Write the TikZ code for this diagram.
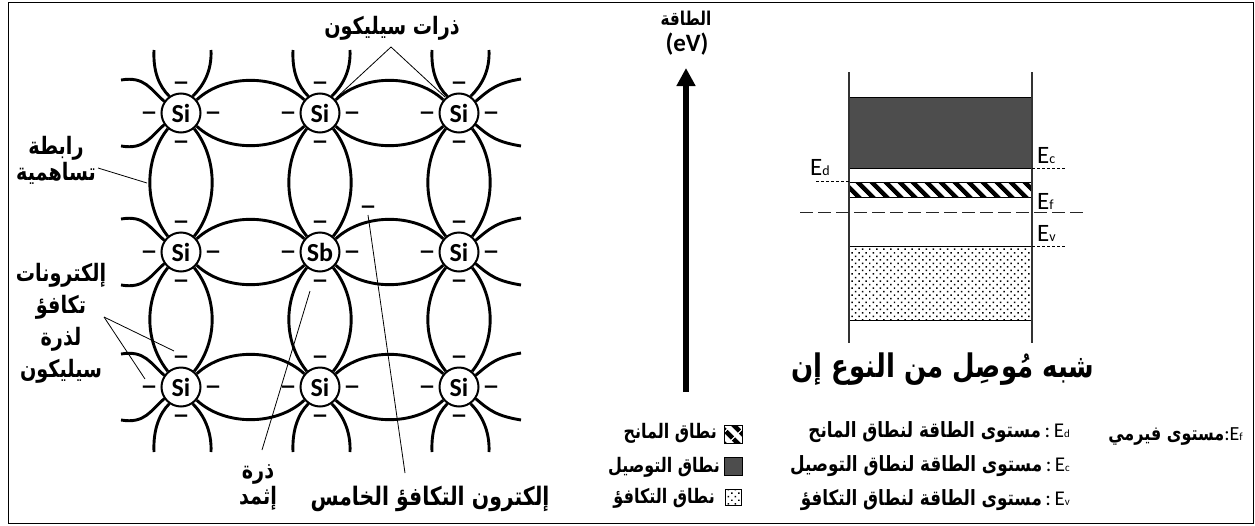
\documentclass[tikz,border=0pt]{standalone}
\usepackage{fontspec}
\usetikzlibrary{patterns.meta,arrows.meta}
\setmainfont{Carlito}
\newfontfamily\arb[Script=Arabic,FakeStretch=.8]{DejaVu Sans}
\newfontfamily\dashfont[FakeStretch=1.35]{Carlito}
\TeXXeTstate=1
\newcommand{\ar}[1]{{\arb\bfseries\beginR #1\endR}}
\newcommand{\en}[2][11]{E{\fontsize{#1}{#1}\selectfont #2}}
\definecolor{cond}{HTML}{4D4D4D}
\tikzset{
 x=1pt,y=-1pt,
 atom/.style={circle,draw=black,line width=2pt,fill=white,minimum size=39pt,inner sep=0pt,font=\fontsize{26}{26}\selectfont\bfseries},
 bond/.style={line width=2.9pt,draw=black},
 lead/.style={line width=.8pt,draw=black},
 elec/.style={inner sep=0pt,anchor=base,font=\fontsize{26}{26}\selectfont\dashfont\bfseries},
 arlab/.style={inner sep=0pt,align=center,font=\fontsize{24}{26}\selectfont},
 legtext/.style={inner sep=0pt,font=\fontsize{20}{22}\selectfont},
 keytext/.style={inner sep=0pt,font=\fontsize{21}{22}\selectfont},
 level/.style={line width=.8pt,draw=black,dash pattern=on 3pt off 2pt},
 enlab/.style={inner sep=0pt,font=\fontsize{25}{25}\selectfont},
 stripes/.style={pattern={Lines[angle=135,distance=10.5pt,line width=5pt]},pattern color=black},
 speckle/.style={pattern={Dots[angle=45,distance=5pt,radius=1.05pt]},pattern color=black},
}
\begin{document}
\begin{tikzpicture}
\useasboundingbox (0,0) rectangle (1255,525);
\node[draw=black,line width=1pt,minimum width=1245pt,minimum height=521pt,inner sep=0pt] (frame) at (630.5,262.5) {};
% ---- atoms and their electrons
\foreach \n/\x/\y/\t in {a/181/113/Si,b/320/113/Si,c/459/113/Si,d/181/252/Si,e/320/252/Sb,f/459/252/Si,g/181/387/Si,h/320/387/Si,i/459/387/Si}{
  \node[atom] (\n) at (\x,\y) {\t};
  \node[elec] (\n-et) at (\x,\y-23) {–};
  \node[elec] (\n-eb) at (\x,\y+36) {–};
  \node[elec] (\n-el) at (\x-32,\y+7) {–};
  \node[elec] (\n-er) at (\x+32,\y+7) {–};
}
\node[elec] (extra) at (368,214) {–};
\foreach \p/\q in {a/b,b/c,d/e,e/f,g/h,h/i}{
  \draw[bond] (\p.40) .. controls +(28,-26) and +(-28,-26) .. (\q.140);
  \draw[bond] (\p.-40) .. controls +(28,26) and +(-28,26) .. (\q.-140);
}
\foreach \p/\q in {a/d,b/e,c/f,d/g,e/h,f/i}{
  \draw[bond] (\p.-130) .. controls +(-24,30) and +(-24,-30) .. (\q.130);
  \draw[bond] (\p.-50) .. controls +(24,30) and +(24,-30) .. (\q.50);
}
% ---- free stubs up and down
\foreach \n/\x/\y in {a/181/113,b/320/113,c/459/113}{
  \coordinate (\n-s1) at (\x-27,\y-63);
  \coordinate (\n-s2) at (\x+30,\y-63);
  \draw[bond] (\n.125) .. controls +(-10,-10) and +(-1,22) .. (\n-s1);
  \draw[bond] (\n.55) .. controls +(10,-10) and +(1,22) .. (\n-s2);
}
\foreach \n/\x/\y in {g/181/387,h/320/387,i/459/387}{
  \coordinate (\n-s1) at (\x-27,\y+65);
  \coordinate (\n-s2) at (\x+30,\y+65);
  \draw[bond] (\n.-125) .. controls +(-10,10) and +(-1,-22) .. (\n-s1);
  \draw[bond] (\n.-55) .. controls +(10,10) and +(1,-22) .. (\n-s2);
}
% ---- free stubs left and right
\foreach \n/\x/\y in {a/181/113,d/181/252,g/181/387}{
  \coordinate (\n-s3) at (\x-60,\y-33);
  \coordinate (\n-s4) at (\x-60,\y+33);
  \draw[bond] (\n.145) .. controls +(-14,-12) and +(24,-4) .. (\n-s3);
  \draw[bond] (\n.-145) .. controls +(-14,12) and +(24,4) .. (\n-s4);
}
\foreach \n/\x/\y in {c/459/113,f/459/252,i/459/387}{
  \coordinate (\n-s3) at (\x+62,\y-34);
  \coordinate (\n-s4) at (\x+62,\y+33);
  \draw[bond] (\n.35) .. controls +(14,-12) and +(-24,4) .. (\n-s3);
  \draw[bond] (\n.-35) .. controls +(14,12) and +(-24,-4) .. (\n-s4);
}
% ---- lattice labels
\node[arlab] (lsi) at (392,28) {\ar{ذرات سيليكون}};
\node[arlab] (lcov) at (56,160) {\ar{رابطة}\\\ar{تساهمية}};
\node[arlab] (lval) at (61,323) {\ar{إلكترونات}\\[6pt]\ar{تكافؤ}\\[6pt]\ar{لذرة}\\[6pt]\ar{سيليكون}};
\node[arlab] (lsb) at (258,487) {\ar{ذرة}\\\ar{إثمد}};
\node[arlab,font=\fontsize{25.5}{26}\selectfont] (lfif) at (430,499) {\ar{إلكترون التكافؤ الخامس}};
% ---- leaders
\coordinate (ap1) at (391,47);
\coordinate (ap2) at (104,317);
\coordinate (cov) at (147,183);
\coordinate (lcovend) at (98,168);
\coordinate (sbend) at (262,450);
\coordinate (sbtop) at (310,291);
\coordinate (fifth) at (405,473);
\coordinate (fifthtop) at (368,215);
\coordinate (v1) at (174,351);
\coordinate (v2) at (145,379);
\coordinate (s1) at (337,97);
\coordinate (s2) at (445,97);
\draw[lead] (ap1) -- (s1);
\draw[lead] (ap1) -- (s2);
\draw[lead] (lcovend) -- (cov);
\draw[lead] (ap2) -- (v1);
\draw[lead] (ap2) -- (v2);
\draw[lead] (sbend) -- (sbtop);
\draw[lead] (fifth) -- (fifthtop);
% ---- energy axis
\node[arlab,font=\fontsize{19}{20}\selectfont] (en) at (686,18) {\ar{الطاقة}};
\node[inner sep=0pt,font=\fontsize{25}{25}\selectfont\bfseries] (ev) at (687,44) {(eV)};
\coordinate (axb) at (686,392);
\coordinate (axt) at (686,68);
\draw[line width=5.5pt,-{Triangle[length=18pt,width=18pt]}] (axb) -- (axt);
% ---- bands
\node[fill=cond,draw=black,line width=.6pt,minimum width=183pt,minimum height=71pt,inner sep=0pt] (cb) at (940.5,132.5) {};
\node[stripes,draw=black,line width=.8pt,minimum width=183pt,minimum height=15pt,inner sep=0pt] (db) at (940.5,189.5) {};
\node[speckle,draw=black,line width=.8pt,minimum width=183pt,minimum height=74pt,inner sep=0pt] (vb) at (940.5,283) {};
\coordinate (lt) at (849,72); \coordinate (lb) at (849,343);
\coordinate (rt) at (1032,72); \coordinate (rb) at (1032,343);
\draw[line width=1.2pt,black!80] (lt) -- (lb);
\draw[line width=1.2pt,black!80] (rt) -- (rb);
\coordinate (f1) at (800,212); \coordinate (f2) at (1087,212);
\draw[line width=.9pt,dash pattern=on 13pt off 5pt,black!85] (f1) -- (f2);
\coordinate (c1) at (1032,168); \coordinate (c2) at (1066,168);
\coordinate (v3) at (1032,246); \coordinate (v4) at (1066,246);
\coordinate (d1) at (816,181); \coordinate (d2) at (849,181);
\draw[level] (c1) -- (c2);
\draw[level] (v3) -- (v4);
\draw[level] (d1) -- (d2);
\node[enlab,anchor=west] (lec) at (1037,156) {\en[14]{c}};
\node[enlab,anchor=west] (lef) at (1037,201) {\en[14]{f}};
\node[enlab,anchor=west] (lev) at (1037,233) {\en[14]{v}};
\node[enlab,anchor=west] (led) at (810,168) {\en[14]{d}};
\node[inner sep=0pt,font=\fontsize{32.5}{34}\selectfont] (title) at (943,369) {\ar{شبه مُوصِل من النوع إن}};
% ---- legend
\node[keytext,anchor=east] (k1) at (1070,432) {\ar{مستوى الطاقة لنطاق المانح}\,:\,\en{d}};
\node[keytext,anchor=east] (k2) at (1070,466) {\ar{مستوى الطاقة لنطاق التوصيل}\,:\,\en{c}};
\node[keytext,anchor=east] (k3) at (1070,500) {\ar{مستوى الطاقة لنطاق التكافؤ}\,:\,\en{v}};
\node[legtext,anchor=east] (k4) at (1243,437) {\ar{مستوى فيرمي}:\en{f}};
\node[legtext,anchor=east] (t1) at (717,433) {\ar{نطاق المانح}};
\node[legtext,anchor=east] (t2) at (720,467) {\ar{نطاق التوصيل}};
\node[legtext,anchor=east] (t3) at (715,498) {\ar{نطاق التكافؤ}};
\node[stripes,draw=black,line width=.8pt,minimum size=18pt,inner sep=0pt] (s-1) at (733,434) {};
\node[fill=cond,draw=black,line width=.8pt,minimum size=18pt,inner sep=0pt] (s-2) at (733,466) {};
\node[speckle,draw=black,line width=.6pt,minimum size=16pt,inner sep=0pt] (s-3) at (733,497) {};
\end{tikzpicture}
\end{document}
